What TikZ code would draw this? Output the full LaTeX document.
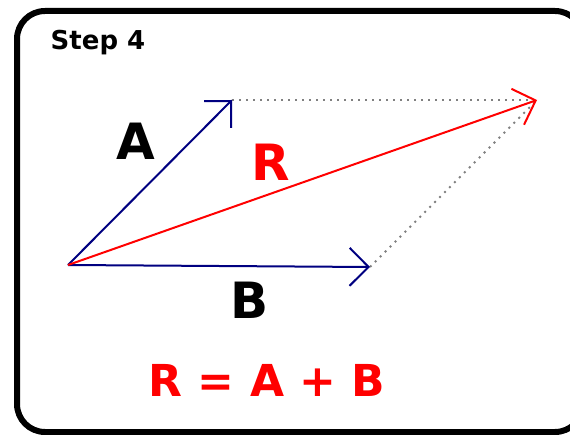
\documentclass[tikz,border=0pt]{standalone}
\usepackage{fontspec}
\setmainfont{DejaVu Sans}
\usetikzlibrary{arrows.meta,positioning}
\definecolor{vecBlue}{RGB}{0,0,128}
\definecolor{vecRed}{RGB}{255,0,0}
\definecolor{guideGray}{RGB}{128,128,128}
\tikzset{
    vecBase/.style={-{Straight Barb[length=19pt, width=38pt, line width=2pt]}, line width=2pt},
    vecA/.style={vecBase, draw=vecBlue},
    vecB/.style={vecBase, draw=vecBlue},
    vecR/.style={vecBase, draw=vecRed},
    guide/.style={draw=guideGray, line width=2pt, dash pattern=on 2pt off 5pt},
    bigLabel/.style={font=\fontsize{50}{50}\selectfont\bfseries, inner sep=0pt}
}
\begin{document}
\begin{tikzpicture}[x=1pt, y=-1pt]
\useasboundingbox (0,0) rectangle (570,435);

% --- Frame ---
\draw[line width=6pt, rounded corners=28pt] (17,11) rectangle (583,432);
\node[font=\fontsize{26}{26}\selectfont\bfseries, inner sep=0pt] (step) at (98,43) {Step 4};

% --- Vector end points ---
\coordinate (O) at (68,265);
\coordinate (Atip) at (232,100);
\coordinate (Btip) at (370,267);
\coordinate (Rtip) at (537,100);

% Parallelogram guides
\draw[guide] (Atip) -- (Rtip);
\draw[guide] (Btip) -- (Rtip);

% Vectors
\draw[vecA] (O) -- (Atip);
\draw[vecB] (O) -- (Btip);
\draw[vecR] (O) -- (Rtip);

% --- Labels ---
\node[bigLabel] (labA) at (136,141) {A};
\node[bigLabel, text=vecRed] (labR) at (271,162) {R};
\node[bigLabel] (labB) at (250,300) {B};
\node[font=\fontsize{44}{44}\selectfont\bfseries, text=vecRed, inner sep=0pt] (sum) at (267,380) {R = A + B};

\end{tikzpicture}
\end{document}
